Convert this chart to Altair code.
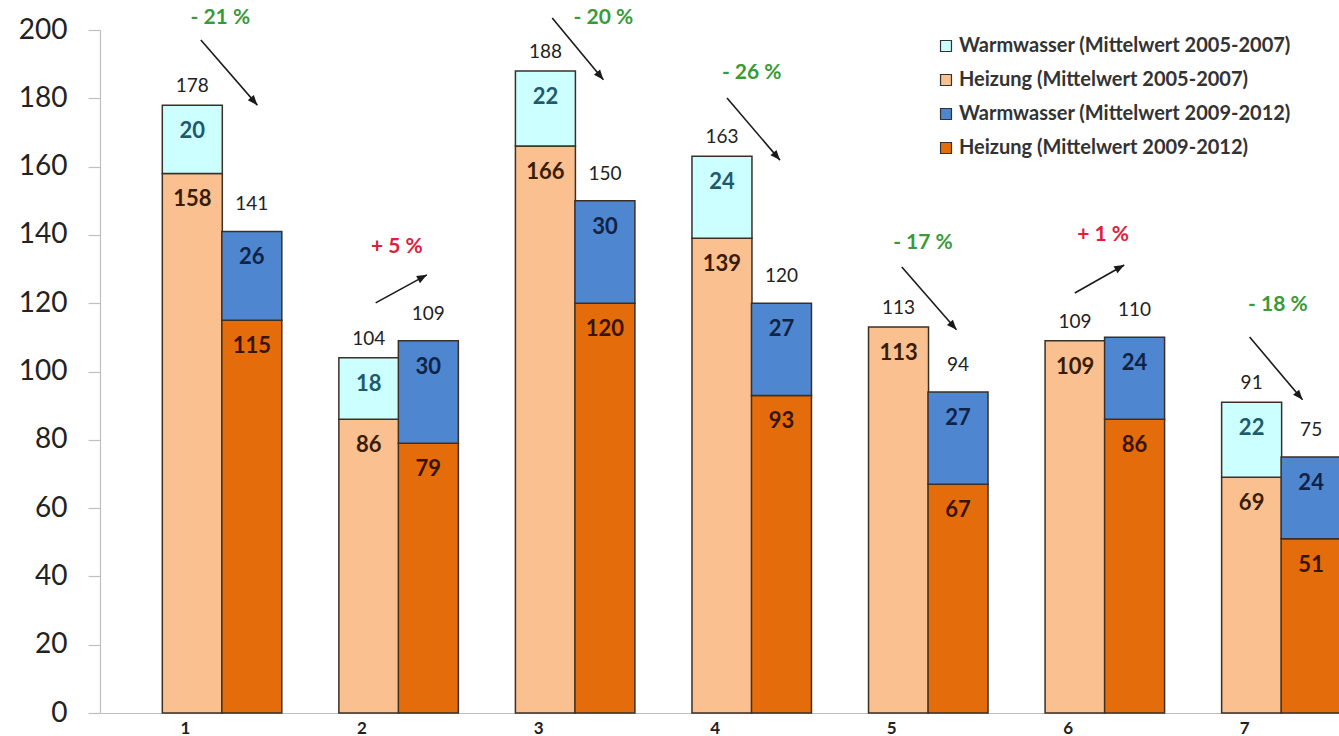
import math
import altair as alt
import pandas as pd

# ---------------- data ----------------
groups = [1, 2, 3, 4, 5, 6, 7]
heizung_0507 = [158, 86, 166, 139, 113, 109, 69]
warmwasser_0507 = [20, 18, 22, 24, 0, 0, 22]
heizung_0912 = [115, 79, 120, 93, 67, 86, 51]
warmwasser_0912 = [26, 30, 30, 27, 27, 24, 24]

change_text = ["- 21 %", "+ 5 %", "- 20 %", "- 26 %", "- 17 %", "+ 1 %", "- 18 %"]
change_up = [False, True, False, False, False, True, False]
# annotation anchors (axis units: group index, kWh value)
change_x = [0.99, 1.99, 3.16, 4.0, 4.97, 5.99, 6.98]
change_y = [203.5, 136.5, 203.5, 187.4, 137.6, 140.0, 119.5]
arrow_x1 = [0.88, 1.87, 2.87, 3.86, 4.85, 5.83, 6.82]
arrow_y1 = [197.1, 120.1, 203.5, 180.1, 130.6, 123.0, 110.1]
arrow_x2 = [1.20, 2.16, 3.16, 4.16, 5.16, 6.11, 7.12]
arrow_y2 = [178.0, 128.3, 185.4, 161.9, 112.2, 131.2, 91.7]

series = [
    "Warmwasser (Mittelwert 2005-2007)",
    "Heizung (Mittelwert 2005-2007)",
    "Warmwasser (Mittelwert 2009-2012)",
    "Heizung (Mittelwert 2009-2012)",
]
fill_colors = ["#CCFFFF", "#FAC090", "#4F86D0", "#E46C0A"]
text_colors = ["#1F5A6B", "#3A1C05", "#0F2347", "#3A1402"]

# ---------------- layout ----------------
W, H = 1239, 683
X_DOMAIN = [0.337, 7.298]
Y_DOMAIN = [0, 200]
OFF = 0.1685
FONT = "Lato"

bars = []
totals = []
for i, g in enumerate(groups):
    for xo, heiz, ww, s_h, s_w, per in [
        (-OFF, heizung_0507[i], warmwasser_0507[i], 1, 0, "A"),
        (OFF, heizung_0912[i], warmwasser_0912[i], 3, 2, "B"),
    ]:
        pos = g + xo
        bars.append(dict(pos=pos, start=0, end=heiz, value=heiz,
                         series=series[s_h], tcolor=text_colors[s_h]))
        if ww > 0:
            bars.append(dict(pos=pos, start=heiz, end=heiz + ww, value=ww,
                             series=series[s_w], tcolor=text_colors[s_w]))
        totals.append(dict(pos=pos, total=heiz + ww, period=per))
bars = pd.DataFrame(bars)
totals = pd.DataFrame(totals)

pxx = W / (X_DOMAIN[1] - X_DOMAIN[0])
pxy = H / (Y_DOMAIN[1] - Y_DOMAIN[0])
ann = []
for i in range(len(groups)):
    dx = (arrow_x2[i] - arrow_x1[i]) * pxx
    dy = -(arrow_y2[i] - arrow_y1[i]) * pxy
    ang = math.degrees(math.atan2(dx, -dy)) % 360
    ann.append(dict(tx=change_x[i], ty=change_y[i], text=change_text[i],
                    tcol="#E0203A" if change_up[i] else "#3A9A3A",
                    x1=arrow_x1[i], y1=arrow_y1[i], x2=arrow_x2[i], y2=arrow_y2[i],
                    angle=ang))
ann = pd.DataFrame(ann)

xscale = alt.Scale(domain=X_DOMAIN, nice=False, zero=False)
yscale = alt.Scale(domain=Y_DOMAIN, nice=False, zero=True)

x_axis = alt.Axis(
    values=[g - 0.21 for g in groups],
    labelExpr="round(datum.value + 0.21)",
    ticks=False, grid=False, title=None,
    domainColor="#BFBFBF", domainWidth=1.2,
    labelFont=FONT, labelFontSize=17, labelFontWeight="bold", labelColor="#222222",
    labelPadding=7, labelOverlap=False, labelFlush=False,
)
y_axis = alt.Axis(
    values=list(range(0, 201, 20)), grid=False, title=None,
    tickSize=12, tickColor="#BFBFBF", tickWidth=1.2,
    domainColor="#BFBFBF", domainWidth=1.2,
    labelFont=FONT, labelFontSize=28, labelColor="#222222", labelPadding=21,
)


def X(field):
    return alt.X(field, scale=xscale, axis=x_axis)


def Y(field):
    return alt.Y(field, scale=yscale, axis=y_axis)


bar_layer = alt.Chart(bars).mark_bar(
    size=60, stroke="#3B3026", strokeWidth=1.5, strokeOpacity=1
).encode(
    x=X("pos:Q"),
    y=Y("start:Q"),
    y2="end:Q",
    color=alt.Color(
        "series:N",
        scale=alt.Scale(domain=series, range=fill_colors),
        legend=alt.Legend(
            orient="none", legendX=836, legendY=6, direction="vertical",
            title=None, padding=0, symbolType="square", symbolSize=120,
            symbolStrokeColor="#333333", symbolStrokeWidth=1.2,
            labelFont=FONT, labelFontSize=20, labelFontWeight="bold",
            labelColor="#333333", rowPadding=14, labelOffset=3,
            labelLimit=600, values=series,
        ),
    ),
)

seg_text = alt.Chart(bars).mark_text(
    font=FONT, fontSize=22, fontWeight="bold", baseline="middle", dy=26
).encode(
    x=X("pos:Q"),
    y=Y("end:Q"),
    text="value:Q",
    color=alt.Color("tcolor:N", scale=None),
)

tot_a = alt.Chart(totals[totals.period == "A"]).mark_text(
    font=FONT, fontSize=19, color="#222222", baseline="middle", dy=-19
).encode(
    x=X("pos:Q"),
    y=Y("total:Q"),
    text="total:Q",
)
tot_b = alt.Chart(totals[totals.period == "B"]).mark_text(
    font=FONT, fontSize=19, color="#222222", baseline="middle", dy=-27
).encode(
    x=X("pos:Q"),
    y=Y("total:Q"),
    text="total:Q",
)

pct_text = alt.Chart(ann).mark_text(
    font=FONT, fontSize=21, fontWeight="bold", baseline="middle"
).encode(
    x=X("tx:Q"),
    y=Y("ty:Q"),
    text="text:N",
    color=alt.Color("tcol:N", scale=None),
)

arrow_line = alt.Chart(ann).mark_rule(color="#1A1A1A", strokeWidth=1.6).encode(
    x=X("x1:Q"),
    y=Y("y1:Q"),
    x2="x2:Q",
    y2="y2:Q",
)
arrow_head = alt.Chart(ann).mark_point(
    shape="M0,0L0.8,2L-0.8,2Z", filled=True, size=100, color="#1A1A1A", opacity=1
).encode(
    x=X("x2:Q"),
    y=Y("y2:Q"),
    angle=alt.Angle("angle:Q", scale=None),
)

chart = alt.layer(
    bar_layer, seg_text, tot_a, tot_b, arrow_line, arrow_head, pct_text
).properties(
    width=W, height=H,
    autosize=alt.AutoSizeParams(type="none"),
    padding={"left": 100, "top": 30, "right": 0, "bottom": 23},
    background="white",
).configure_view(stroke=None)

chart.save("out.html", embed_options={"renderer": "svg", "actions": False})
